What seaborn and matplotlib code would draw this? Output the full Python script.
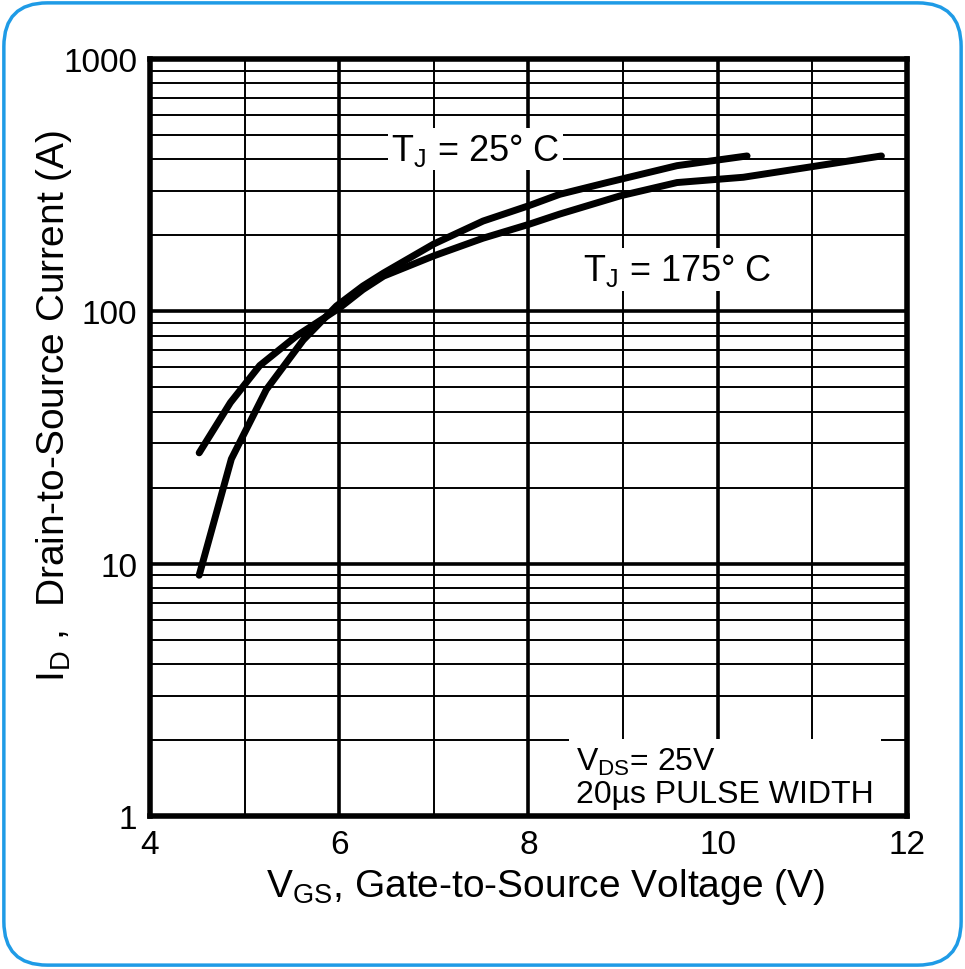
import numpy as np
import pandas as pd
import matplotlib
matplotlib.use("Agg")
import matplotlib.pyplot as plt
from matplotlib.patches import FancyBboxPatch
from matplotlib.ticker import LogLocator, FixedLocator, NullFormatter
import seaborn as sns

# curve data
vgs_25 = [4.52, 4.86, 5.23, 5.62, 5.97, 6.25, 6.47, 7.0, 7.52, 8.0, 8.33, 8.83, 9.57, 10.31]
id_25 = [9.0, 26, 49, 77, 105, 126, 142, 185, 228, 262, 291, 324, 378, 413]

vgs_175 = [4.52, 4.85, 5.16, 5.55, 6.0, 6.25, 6.47, 7.0, 7.52, 8.0, 8.33, 8.97, 9.57, 10.27, 11.73]
id_175 = [27.5, 43.5, 61, 80, 103, 122, 138, 166, 195, 221, 243, 287, 324, 340, 413]

x_ticks = [4, 6, 8, 10, 12]
x_minor = [5, 7, 9, 11]
y_ticks = [1, 10, 100, 1000]
y_tick_labels = ["1", "10", "100", "1000"]

sns.set_style("white")
plt.rcParams['font.family'] = ['Liberation Sans', 'DejaVu Sans']
plt.rcParams['mathtext.fontset'] = 'custom'
plt.rcParams['mathtext.rm'] = 'Liberation Sans'
plt.rcParams['mathtext.it'] = 'Liberation Sans'
for k in ['text.color', 'axes.labelcolor', 'xtick.color', 'ytick.color']:
    plt.rcParams[k] = 'black'

df = pd.concat([
    pd.DataFrame({"vgs": vgs_25, "id": id_25, "tj": "25"}),
    pd.DataFrame({"vgs": vgs_175, "id": id_175, "tj": "175"}),
])

fig = plt.figure(figsize=(9.65, 9.7), dpi=100)
ax = fig.add_axes([0.1554, 0.1577, 0.7845, 0.7804])

# blue rounded frame
frame = FancyBboxPatch((0.004, 0.004), 0.992, 0.992,
                       boxstyle="round,pad=0,rounding_size=0.045",
                       transform=fig.transFigure, fill=False,
                       edgecolor="#1f9be6", linewidth=2.5, zorder=0)
fig.patches.append(frame)

sns.lineplot(data=df, x="vgs", y="id", hue="tj", palette=["black", "black"],
             sort=False, estimator=None, linewidth=5, legend=False, ax=ax,
             solid_capstyle="round", zorder=5)

ax.set_yscale("log")
ax.set_xlim(4, 12)
ax.set_ylim(1, 1000)

ax.xaxis.set_major_locator(FixedLocator(x_ticks))
ax.xaxis.set_minor_locator(FixedLocator(x_minor))
ax.yaxis.set_major_locator(FixedLocator(y_ticks))
ax.set_yticklabels(y_tick_labels)
ax.yaxis.set_minor_locator(LogLocator(base=10, subs=np.arange(2, 10)))
ax.yaxis.set_minor_formatter(NullFormatter())

ax.grid(which="major", color="black", linewidth=2.6)
ax.grid(which="minor", color="black", linewidth=1.4)
ax.tick_params(which="both", length=0, labelsize=24, pad=9)
for s in ax.spines.values():
    s.set_linewidth(4)
    s.set_color("black")
    s.set_zorder(6)

ax.set_xlabel(r"V$_{\mathrm{GS}}$, Gate-to-Source Voltage (V)", fontsize=28)
ax.xaxis.set_label_coords(0.523, -0.066)
ax.set_ylabel(r"I$_{\mathrm{D}}$ ,  Drain-to-Source Current (A)", fontsize=28)
ax.yaxis.set_label_coords(-0.1, 0.543)

box = dict(facecolor="white", edgecolor="none", pad=2)
ax.text(7.44, 440, r"T$_{\mathrm{J}}$ = 25$\degree$ C", fontsize=26,
        ha="center", va="center", bbox=box, zorder=4)
ax.text(9.57, 147, r"T$_{\mathrm{J}}$ = 175$\degree$ C", fontsize=26,
        ha="center", va="center", bbox=box, zorder=4)
ax.text(8.5, 1.07, "V$_{\\mathrm{DS}}$= 25V\n20\u00b5s PULSE WIDTH", fontsize=23,
        ha="left", va="bottom", linespacing=1.05,
        bbox=dict(facecolor="white", edgecolor="none", pad=5), zorder=4)

fig.savefig("out.png", dpi=100)
